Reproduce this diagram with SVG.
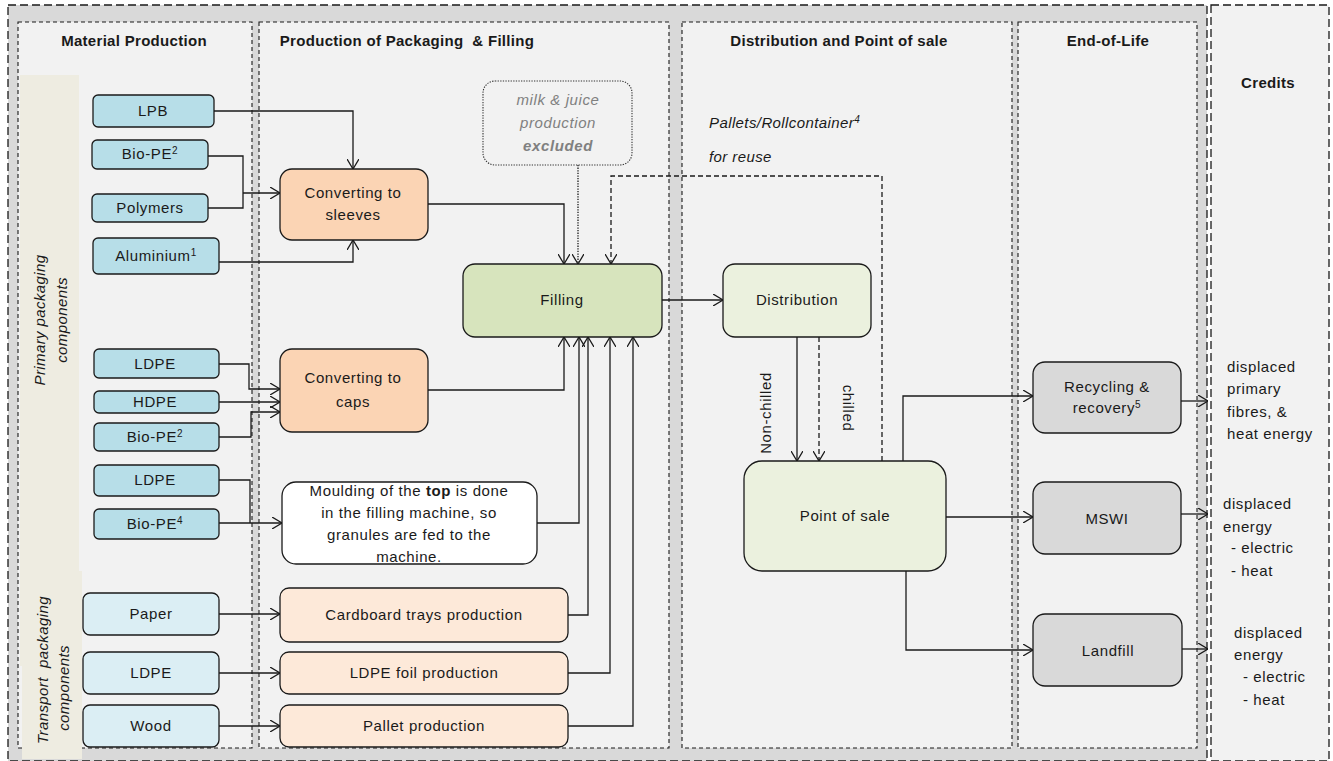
<svg xmlns="http://www.w3.org/2000/svg" width="1333" height="761" viewBox="0 0 1333 761">
<defs>
<marker id="arr" viewBox="0 0 10 12" refX="10" refY="6" markerWidth="10" markerHeight="12" markerUnits="userSpaceOnUse" orient="auto">
<path d="M0,0 L10,6 L0,12" fill="none" stroke="#1a1a1a" stroke-width="1.3"/>
</marker>
</defs>
<style>
text{font-family:"Liberation Sans",Arial,sans-serif;fill:#1a1a1a;}
.t{font-size:15px;letter-spacing:0.6px;text-anchor:middle;}
.h{font-size:15px;font-weight:bold;letter-spacing:0.3px;text-anchor:middle;}
.it{font-size:15px;font-style:italic;letter-spacing:0.4px;}
.cr{font-size:15px;letter-spacing:0.6px;}
.box{stroke:#1a1a1a;stroke-width:1.3;}
.mat{fill:#b7dee8;}
.tra{fill:#dbeef4;}
.conv{fill:#fbd4b4;}
.prod{fill:#fde9d9;}
.fill{fill:#d7e4bd;}
.dist{fill:#ebf1de;}
.eol{fill:#d9d9d9;}
.panel{fill:#f2f2f2;stroke:#1a1a1a;stroke-width:1.1;stroke-dasharray:4,3;}
.c{fill:none;stroke:#1a1a1a;stroke-width:1.3;}
.ca{fill:none;stroke:#1a1a1a;stroke-width:1.3;marker-end:url(#arr);}
.dash{stroke-dasharray:5,3;}
.dot{stroke-dasharray:1.3,1.3;}
</style>
<rect x="0" y="0" width="1333" height="761" fill="#ffffff"/>
<g id="frame">
<rect x="8" y="5" width="1199" height="756" fill="#d9d9d9" stroke="#1a1a1a" stroke-width="1.3" stroke-dasharray="8,4"/>
<rect x="1211" y="5" width="118" height="756" fill="#f2f2f2" stroke="#1a1a1a" stroke-width="1.3" stroke-dasharray="8,4"/>
</g>
<g id="panels">
<rect class="panel" x="18" y="22" width="234" height="726"/>
<rect class="panel" x="259" y="22" width="410" height="726"/>
<rect class="panel" x="682" y="22" width="330" height="726"/>
<rect class="panel" x="1018" y="22" width="179" height="726"/>
<rect x="20" y="75" width="59" height="591" fill="#eeece1"/>
<rect x="22" y="571" width="60" height="188" fill="#eeece1"/>
<text class="h" x="134" y="46">Material Production</text>
<text class="h" x="407" y="46" xml:space="preserve">Production of Packaging  &amp; Filling</text>
<text class="h" x="839" y="46">Distribution and Point of sale</text>
<text class="h" x="1108" y="46">End-of-Life</text>
<text class="h" x="1268" y="88">Credits</text>
<text class="it" text-anchor="middle" transform="translate(45,320) rotate(-90)">Primary packaging</text>
<text class="it" text-anchor="middle" transform="translate(67,320) rotate(-90)">components</text>
<text class="it" text-anchor="middle" transform="translate(48,670) rotate(-90)" xml:space="preserve">Transport  packaging</text>
<text class="it" text-anchor="middle" transform="translate(69,688) rotate(-90)">components</text>
</g>
<g id="connectors">
<path class="ca" d="M214,111 H353 V169"/>
<path class="c" d="M208,156 H243 V208 H208"/>
<path class="ca" d="M243,193 H280"/>
<path class="ca" d="M219,262 H353 V240"/>
<path class="ca" d="M428,204 H564 V264"/>
<path class="ca dot" d="M578,165 V264"/>
<path class="ca dash" d="M882,461 V176 H611 V264"/>
<path class="ca" d="M662,300 H723"/>
<path class="ca" d="M797,337 V461"/>
<path class="ca dash" d="M819,337 V461"/>
<path class="ca" d="M903,461 V396 H1033"/>
<path class="ca" d="M946,517 H1033"/>
<path class="ca" d="M906,571 V650 H1033"/>
<path class="ca" d="M1181,401 H1208"/>
<path class="ca" d="M1181,514 H1208"/>
<path class="ca" d="M1182,649 H1208"/>
<path class="ca" d="M219,364 H249 V389 H280"/>
<path class="ca" d="M219,402 H280"/>
<path class="ca" d="M219,437 H251 V412 H280"/>
<path class="ca" d="M428,390 H564 V337"/>
<path class="c" d="M219,480 H250 V523"/>
<path class="ca" d="M219,523 H282"/>
<path class="ca" d="M537,523 H579 V337"/>
<path class="ca" d="M568,615 H588 V337"/>
<path class="ca" d="M568,673 H610 V337"/>
<path class="ca" d="M568,726 H633 V337"/>
<path class="ca" d="M219,614 H280"/>
<path class="ca" d="M219,673 H280"/>
<path class="ca" d="M219,726 H280"/>
<text class="t" transform="translate(771,413) rotate(-90)">Non-chilled</text>
<text class="t" transform="translate(843,408) rotate(90)">chilled</text>
<text class="it" x="709" y="128">Pallets/Rollcontainer<tspan dy="-5" font-size="10">4</tspan></text>
<text class="it" x="709" y="162">for reuse</text>
</g>
<g id="n-lpb"><rect class="box mat" x="93" y="95" width="121" height="32" rx="5"/><text class="t" x="153" y="116">LPB</text></g>
<g id="n-biope1"><rect class="box mat" x="92" y="140" width="116" height="29" rx="5"/><text class="t" x="150" y="159">Bio-PE<tspan dy="-5" font-size="10">2</tspan></text></g>
<g id="n-polymers"><rect class="box mat" x="92" y="194" width="116" height="28" rx="5"/><text class="t" x="150" y="213">Polymers</text></g>
<g id="n-alu"><rect class="box mat" x="93" y="238" width="126" height="36" rx="5"/><text class="t" x="156" y="261">Aluminium<tspan dy="-5" font-size="10">1</tspan></text></g>
<g id="n-ldpe1"><rect class="box mat" x="94" y="349" width="125" height="29" rx="5"/><text class="t" x="155" y="369">LDPE</text></g>
<g id="n-hdpe"><rect class="box mat" x="94" y="391" width="125" height="22" rx="5"/><text class="t" x="155" y="407">HDPE</text></g>
<g id="n-biope2"><rect class="box mat" x="94" y="423" width="125" height="28" rx="5"/><text class="t" x="155" y="442">Bio-PE<tspan dy="-5" font-size="10">2</tspan></text></g>
<g id="n-ldpe2"><rect class="box mat" x="94" y="465" width="125" height="31" rx="5"/><text class="t" x="155" y="485">LDPE</text></g>
<g id="n-biope4"><rect class="box mat" x="94" y="509" width="125" height="30" rx="5"/><text class="t" x="155" y="529">Bio-PE<tspan dy="-5" font-size="10">4</tspan></text></g>
<g id="n-paper"><rect class="box tra" x="83" y="593" width="136" height="42" rx="7"/><text class="t" x="151" y="619">Paper</text></g>
<g id="n-ldpe3"><rect class="box tra" x="83" y="652" width="136" height="42" rx="7"/><text class="t" x="151" y="678">LDPE</text></g>
<g id="n-wood"><rect class="box tra" x="83" y="705" width="136" height="42" rx="7"/><text class="t" x="151" y="731">Wood</text></g>
<g id="n-sleeves"><rect class="box conv" x="280" y="169" width="148" height="71" rx="12"/><text class="t" x="353" y="198">Converting to</text><text class="t" x="353" y="220">sleeves</text></g>
<g id="n-caps"><rect class="box conv" x="280" y="349" width="148" height="83" rx="12"/><text class="t" x="353" y="383">Converting to</text><text class="t" x="353" y="407">caps</text></g>
<g id="n-moulding"><rect class="box" fill="#ffffff" x="282" y="482" width="255" height="82" rx="14"/>
<text class="t" x="409" y="496">Moulding of the <tspan font-weight="bold">top</tspan> is done</text>
<text class="t" x="409" y="518">in the filling machine, so</text>
<text class="t" x="409" y="540">granules are fed to the</text>
<text class="t" x="409" y="562">machine.</text></g>
<g id="n-cardboard"><rect class="box prod" x="280" y="588" width="288" height="54" rx="9"/><text class="t" x="424" y="620">Cardboard trays production</text></g>
<g id="n-foil"><rect class="box prod" x="280" y="652" width="288" height="42" rx="9"/><text class="t" x="424" y="678">LDPE foil production</text></g>
<g id="n-pallet"><rect class="box prod" x="280" y="705" width="288" height="42" rx="9"/><text class="t" x="424" y="731">Pallet production</text></g>
<g id="n-milk"><rect x="483" y="81" width="149" height="84" rx="12" fill="#f2f2f2" stroke="#333" stroke-width="1.1" stroke-dasharray="1.3,1.3"/>
<text class="t" font-style="italic" style="fill:#808080" x="558" y="105">milk &amp; juice</text>
<text class="t" font-style="italic" style="fill:#808080" x="558" y="128">production</text>
<text class="t" font-style="italic" font-weight="bold" style="fill:#808080" x="558" y="151">excluded</text></g>
<g id="n-filling"><rect class="box fill" x="463" y="264" width="199" height="73" rx="12"/><text class="t" x="562" y="305">Filling</text></g>
<g id="n-distribution"><rect class="box dist" x="723" y="264" width="148" height="73" rx="12"/><text class="t" x="797" y="305">Distribution</text></g>
<g id="n-pos"><rect class="box dist" x="744" y="461" width="202" height="110" rx="18"/><text class="t" x="845" y="521">Point of sale</text></g>
<g id="n-recycling"><rect class="box eol" x="1033" y="362" width="148" height="71" rx="12"/><text class="t" x="1107" y="392">Recycling &amp;</text><text class="t" x="1107" y="413">recovery<tspan dy="-5" font-size="10">5</tspan></text></g>
<g id="n-mswi"><rect class="box eol" x="1033" y="482" width="148" height="72" rx="12"/><text class="t" x="1107" y="524">MSWI</text></g>
<g id="n-landfill"><rect class="box eol" x="1033" y="614" width="149" height="72" rx="12"/><text class="t" x="1108" y="656">Landfill</text></g>
<g id="credits-text">
<text class="cr" x="1227" y="372">displaced</text>
<text class="cr" x="1227" y="394">primary</text>
<text class="cr" x="1227" y="417">fibres, &amp;</text>
<text class="cr" x="1227" y="439">heat energy</text>
<text class="cr" x="1223" y="509">displaced</text>
<text class="cr" x="1223" y="532">energy</text>
<text class="cr" x="1231" y="553">- electric</text>
<text class="cr" x="1231" y="576">- heat</text>
<text class="cr" x="1234" y="638">displaced</text>
<text class="cr" x="1234" y="660">energy</text>
<text class="cr" x="1243" y="682">- electric</text>
<text class="cr" x="1243" y="705">- heat</text>
</g>
</svg>
